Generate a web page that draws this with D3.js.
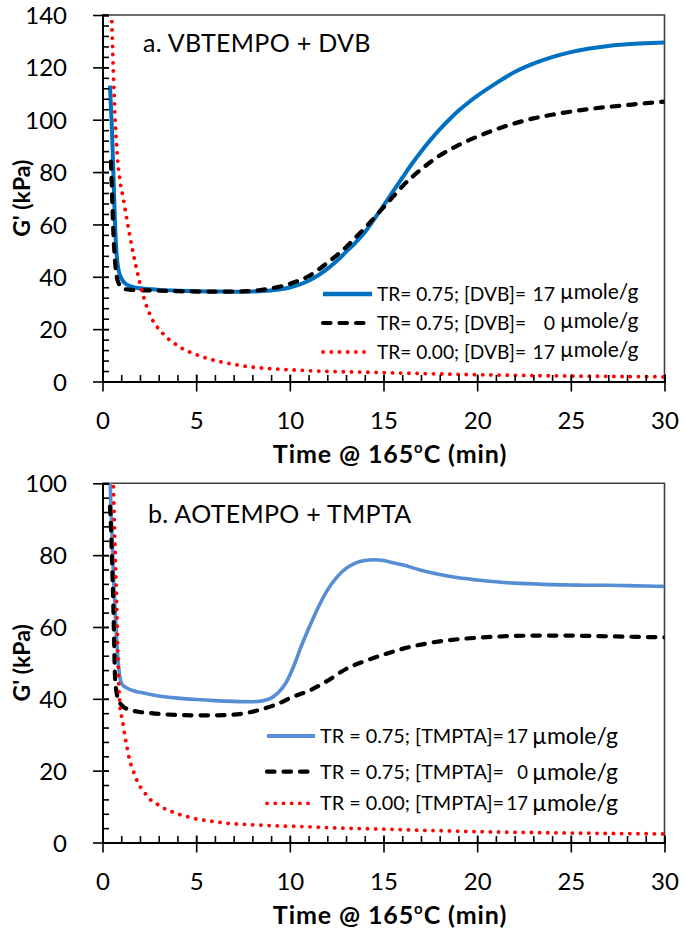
<!DOCTYPE html>
<html>
<head>
<meta charset="utf-8">
<script src="https://cdn.jsdelivr.net/npm/d3@7"></script>
<style>
  body { margin: 0; background: #fff; }
  svg { display: block; font-family: Lato, "Open Sans", sans-serif; }
</style>
</head>
<body>
<div id="chart"></div>
<script>
// panel a: VBTEMPO + DVB
const tA1 = [0.4, 0.5, 0.58, 0.67, 0.76, 0.86, 1.0, 1.3, 1.8, 2.4, 3, 4, 5, 6, 7, 8, 9, 9.5, 10, 10.5, 11, 11.5, 12, 12.5, 13, 13.5, 14, 14.5, 15, 15.5, 16, 16.5, 17, 17.5, 18, 18.5, 19, 19.5, 20, 21, 22, 23, 24, 25, 26, 27, 28, 29, 30];
const gA1 = [113, 97, 80, 60, 48, 42.5, 39.5, 37, 35.8, 35.3, 35, 34.7, 34.5, 34.4, 34.3, 34.4, 34.8, 35.2, 35.9, 37, 38.5, 40.5, 43, 46, 49.5, 53, 57, 62, 67.2, 72.5, 77.8, 83, 87.8, 92.2, 96.3, 100, 103.4, 106.4, 109.1, 113.9, 118.2, 121.4, 123.9, 125.8, 127.2, 128.2, 128.8, 129.2, 129.5];
const tA2 = [0.45, 0.5, 0.58, 0.67, 0.76, 0.9, 1.1, 1.5, 2.4, 4, 6, 8, 8.5, 9, 9.5, 10, 10.5, 11, 11.5, 12, 12.5, 13, 13.5, 14, 14.5, 15, 15.5, 16, 17, 18, 19, 20, 21, 22, 23, 24, 25, 26, 27, 28, 29, 30];
const gA2 = [84, 74, 57, 46, 40, 37, 35.5, 35, 34.8, 34.5, 34.3, 34.6, 35, 35.6, 36.3, 37.3, 38.6, 40.2, 42.6, 45.3, 48.2, 51.3, 55, 58.6, 62.5, 66.5, 70.5, 74.5, 81, 86.3, 90.3, 93.5, 96.3, 98.6, 100.5, 101.9, 103.1, 104.1, 104.9, 105.6, 106.3, 106.9];
const tA3 = [0.45, 0.49, 0.55, 0.62, 0.69, 0.78, 0.93, 1.11, 1.3, 1.64, 2.0, 2.25, 2.6, 3.2, 4.1, 5.3, 7.2, 10.2, 15, 20, 25, 30];
const gA3 = [150, 140, 125, 110, 98, 87, 77, 70, 62, 49, 37.5, 31, 24.5, 18.5, 13.3, 9.5, 6.3, 4.4, 3.4, 2.6, 2.1, 1.8];

// panel b: AOTEMPO + TMPTA
const tB1 = [0.38, 0.45, 0.52, 0.58, 0.67, 0.76, 0.86, 0.95, 1.05, 1.3, 1.6, 2.0, 3.0, 4.0, 5.0, 6.0, 7.0, 8.0, 8.5, 9.0, 9.4, 9.8, 10.2, 10.6, 11.0, 11.5, 12.0, 12.5, 13.0, 13.5, 14.0, 14.5, 15.0, 15.5, 16, 17, 18, 19, 20, 21, 22, 23, 24, 25, 26, 27, 28, 29, 30];
const gB1 = [104, 94, 84, 75, 65, 56, 49, 45.5, 44, 43, 42.3, 41.8, 40.8, 40.2, 39.8, 39.5, 39.3, 39.2, 39.4, 40.2, 41.8, 44.5, 49, 54.5, 59.5, 65.3, 70.2, 73.8, 76.3, 77.8, 78.5, 78.7, 78.5, 77.9, 77.3, 75.8, 74.6, 73.7, 73.1, 72.6, 72.2, 72, 71.8, 71.7, 71.6, 71.6, 71.5, 71.4, 71.3];
const tB2 = [0.4, 0.45, 0.5, 0.58, 0.67, 0.76, 0.84, 0.95, 1.11, 1.5, 1.9, 2.4, 3, 4, 5, 6, 7, 7.5, 8, 8.5, 9, 9.5, 10, 11, 12, 13, 14, 15, 16, 17, 18, 19, 20, 21, 22, 23, 24, 25, 26, 27, 28, 29, 30];
const gB2 = [93.5, 88, 80, 65.6, 46, 41.5, 39.7, 38.7, 37.8, 36.9, 36.4, 36.1, 35.8, 35.5, 35.4, 35.4, 35.6, 35.9, 36.4, 37.1, 37.9, 38.9, 40.2, 42.2, 45, 48.3, 50.5, 52.3, 53.9, 55.1, 56, 56.6, 57, 57.3, 57.5, 57.6, 57.6, 57.6, 57.5, 57.4, 57.3, 57.2, 57.1];
const tB3 = [0.5, 0.58, 0.67, 0.76, 0.84, 0.93, 1.02, 1.08, 1.2, 1.29, 1.47, 1.61, 1.77, 1.97, 2.23, 2.5, 2.86, 3.25, 3.69, 4.1, 4.53, 4.97, 5.42, 5.86, 6.77, 7.66, 8.55, 9.44, 10.33, 11.75, 15, 20.3, 25.7, 30];
const gB3 = [115, 100, 82, 66, 49, 38, 35, 33.5, 29.5, 27.1, 22.5, 20.4, 18.1, 15.9, 14, 12.2, 10.9, 9.6, 8.6, 7.8, 7.2, 6.6, 6.2, 5.9, 5.3, 5.0, 4.8, 4.6, 4.5, 4.2, 3.7, 3.0, 2.6, 2.4];

const xTicks = [0, 5, 10, 15, 20, 25, 30];
const yTicksA = [0, 20, 40, 60, 80, 100, 120, 140];
const yTicksB = [0, 20, 40, 60, 80, 100];
const legendA = [["TR= 0.75; [DVB]=", "17"], ["TR= 0.75; [DVB]=", "0"], ["TR= 0.00; [DVB]=", "17"]];
const legendB = [["TR = 0.75; [TMPTA]=", "17"], ["TR = 0.75; [TMPTA]=", "0"], ["TR = 0.00; [TMPTA]=", "17"]];

const width = 684, height = 932;
const svg = d3.select("#chart").append("svg")
    .attr("width", width)
    .attr("height", height);

const x = d3.scaleLinear().domain([0, 30]).range([102.5, 664.5]);

const dotted = {stroke: "#ff0000", width: 3.8, dash: "0.1 8.1", cap: "round"};
const dashed = {stroke: "#000000", width: 4.2, dash: "7.5 9", cap: "round"};

function drawPanel(p) {
    const y = d3.scaleLinear().domain([0, p.yMax]).range([p.bottom, p.top]);
    const g = svg.append("g");

    g.append("clipPath").attr("id", p.id)
        .append("rect")
        .attr("x", x(0)).attr("y", p.top)
        .attr("width", x(30) - x(0)).attr("height", p.bottom - p.top);

    // frame (top + right)
    g.append("path")
        .attr("d", `M${x(0)},${p.top}H${x(30)}V${p.bottom}`)
        .attr("fill", "none")
        .attr("stroke", "#404040")
        .attr("stroke-width", 1.6);

    // series
    const line = d3.line()
        .x(d => x(d[0]))
        .y(d => y(d[1]))
        .curve(d3.curveMonotoneX);

    p.series.forEach(s => {
        g.append("path")
            .datum(d3.zip(s.t, s.g))
            .attr("clip-path", `url(#${p.id})`)
            .attr("fill", "none")
            .attr("stroke", s.style.stroke)
            .attr("stroke-width", s.style.width)
            .attr("stroke-dasharray", s.style.dash)
            .attr("stroke-linecap", s.style.cap)
            .attr("stroke-linejoin", "round")
            .attr("d", line);
    });

    // x axis: major ticks crossing, minor ticks inside
    const xMinor = g.append("g")
        .attr("transform", `translate(0,${p.bottom})`)
        .call(d3.axisTop(x).tickValues(d3.range(0, 31)).tickSize(6.5).tickFormat(""));
    const xMajor = g.append("g")
        .attr("transform", `translate(0,${p.bottom})`)
        .call(d3.axisBottom(x).tickValues(xTicks).tickSizeInner(10).tickSizeOuter(0));
    xMajor.selectAll(".tick line").attr("y1", -7);
    xMajor.selectAll("text").attr("dy", "0").attr("y", 47.5);

    // y axis
    const yMinor = g.append("g")
        .attr("transform", `translate(${x(0)},0)`)
        .call(d3.axisRight(y).tickValues(d3.range(0, p.yMax + 1, 4)).tickSize(6.5).tickFormat(""));
    const yMajor = g.append("g")
        .attr("transform", `translate(${x(0)},0)`)
        .call(d3.axisLeft(y).tickValues(p.yTicks).tickSizeInner(9.5).tickSizeOuter(0).tickPadding(26));
    yMajor.selectAll(".tick line").attr("x1", 6.5);

    [xMinor, xMajor, yMinor, yMajor].forEach(a => {
        a.selectAll(".domain").attr("stroke", "#000").attr("stroke-width", 2);
        a.selectAll("line").attr("stroke", "#000").attr("stroke-width", 1.6);
    });
    [xMajor, yMajor].forEach(a => {
        a.selectAll("text")
            .attr("fill", "#000")
            .style("font-size", "24px")
            .style("font-family", "Lato, sans-serif");
    });
    yMajor.selectAll("text").attr("dy", "0.36em");

    // axis titles
    const xt = g.append("text")
        .attr("x", 390)
        .attr("y", p.bottom + 81.5)
        .attr("text-anchor", "middle")
        .style("font-size", "25px")
        .style("letter-spacing", "0.9px")
        .style("font-weight", "bold");
    xt.append("tspan").text("Time @ 165");
    xt.append("tspan").text("o").style("font-size", "15px").attr("dy", -10);
    xt.append("tspan").text("C (min)").attr("dy", 10);

    g.append("text")
        .attr("transform", `translate(30,${(p.top + p.bottom) / 2}) rotate(-90)`)
        .attr("text-anchor", "middle")
        .style("font-size", "23px")
        .style("font-weight", "bold")
        .text("G' (kPa)");

    // panel label
    g.append("text")
        .attr("x", p.label[0]).attr("y", p.label[1])
        .style("font-size", "25px")
        .style("letter-spacing", "0.3px")
        .text(p.title);

    // legend
    p.legend.forEach((row, i) => {
        const ly = p.leg.rows[i];
        const st = p.series[i].style;
        g.append("line")
            .attr("x1", p.leg.x1).attr("x2", p.leg.x2)
            .attr("y1", ly).attr("y2", ly)
            .attr("stroke", st.stroke)
            .attr("stroke-width", i === 0 ? st.width + 0.6 : st.width)
            .attr("stroke-dasharray", st.dash)
            .attr("stroke-linecap", st.cap);
        const base = ly + p.leg.dy;
        g.append("text")
            .attr("x", p.leg.tx).attr("y", base)
            .attr("textLength", p.leg.tw)
            .attr("lengthAdjust", "spacingAndGlyphs")
            .style("font-size", "19px")
            .text(row[0]);
        g.append("text")
            .attr("x", p.leg.nx).attr("y", base)
            .attr("text-anchor", "end")
            .style("font-size", p.leg.nfs)
            .text(row[1]);
        const u = g.append("text")
            .attr("x", p.leg.ux).attr("y", base + p.leg.udy)
            .style("font-size", p.leg.ufs);
        u.append("tspan").text("\u00b5");
        u.append("tspan").text("mole/g");
    });
}

drawPanel({
    id: "clipA", top: 15, bottom: 381.5, yMax: 140, yTicks: yTicksA,
    title: "a. VBTEMPO + DVB", label: [143, 52],
    series: [
        {t: tA1, g: gA1, style: {stroke: "#0070c0", width: 4, dash: null, cap: "butt"}},
        {t: tA2, g: gA2, style: dashed},
        {t: tA3, g: gA3, style: dotted}
    ],
    legend: legendA,
    leg: {x1: 323, x2: 372, tx: 377, tw: 149, nx: 555, nfs: "19.5px", ux: 560, rows: [294, 323, 352], dy: 6.5, udy: -2, ufs: "21px"}
});

drawPanel({
    id: "clipB", top: 483.3, bottom: 842.5, yMax: 100, yTicks: yTicksB,
    title: "b. AOTEMPO + TMPTA", label: [148, 523],
    series: [
        {t: tB1, g: gB1, style: {stroke: "#558ed5", width: 3.6, dash: null, cap: "butt"}},
        {t: tB2, g: gB2, style: dashed},
        {t: tB3, g: gB3, style: dotted}
    ],
    legend: legendB,
    leg: {x1: 267, x2: 315, tx: 320, tw: 184, nx: 528, nfs: "18.5px", ux: 532, rows: [736, 771.7, 803.3], dy: 7, udy: 1, ufs: "23px"}
});
</script>
</body>
</html>
